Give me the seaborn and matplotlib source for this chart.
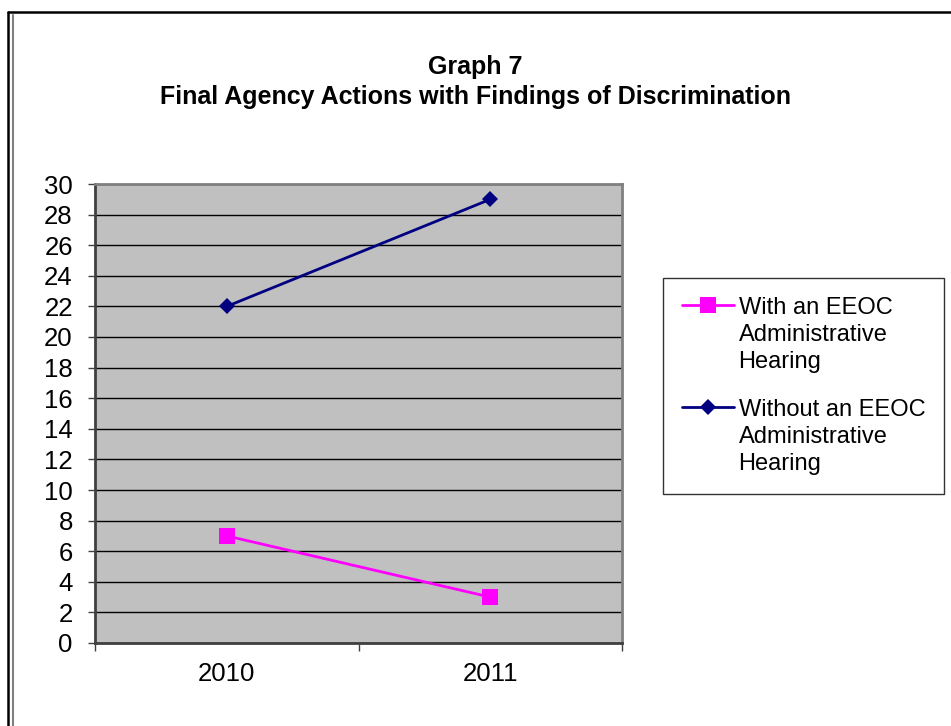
import seaborn as sns
import matplotlib.pyplot as plt
import pandas as pd
from matplotlib.lines import Line2D

# data
years = ['2010', '2011']
with_hearing = [7, 3]
without_hearing = [22, 29]
series_names = ['With an EEOC\nAdministrative\nHearing',
                'Without an EEOC\nAdministrative\nHearing']
y_ticks = list(range(0, 31, 2))

df = pd.DataFrame({
    'Year': years * 2,
    'Count': with_hearing + without_hearing,
    'Series': [series_names[0]] * len(years) + [series_names[1]] * len(years),
})

sns.set_style('white')
plt.rcParams['font.family'] = ['Liberation Sans', 'DejaVu Sans']
plt.rcParams['text.color'] = 'black'
plt.rcParams['xtick.color'] = 'black'
plt.rcParams['ytick.color'] = 'black'

fig = plt.figure(figsize=(9.51, 7.26), dpi=100)
ax = fig.add_axes([95 / 951, 1 - 643 / 726, (622 - 95) / 951, (643 - 184) / 726])
ax.set_facecolor('#C0C0C0')

sns.lineplot(data=df, x='Year', y='Count', hue='Series', style='Series',
             hue_order=series_names, style_order=series_names,
             palette=['#FF00FF', '#000080'], markers=['s', 'D'], dashes=False,
             linewidth=2, markeredgewidth=0, ax=ax)
ax.lines[0].set_markersize(11)
ax.lines[1].set_markersize(8)

ax.set_xlim(-0.5, 1.5)
ax.set_ylim(0, 30)
ax.set_yticks(y_ticks)
ax.yaxis.grid(True, color='black', linewidth=1)
ax.set_axisbelow(True)
ax.set_xticks([-0.5, 0.5, 1.5])
ax.set_xticklabels([])
ax.set_xticks([0, 1], minor=True)
ax.set_xticklabels(years, minor=True)
ax.tick_params(axis='x', which='major', length=6, width=1, color='#404040', direction='out', bottom=True)
ax.tick_params(axis='x', which='minor', length=0, pad=14, labelsize=18.5)
ax.tick_params(axis='y', length=5, width=1, color='#404040', direction='out', left=True, labelsize=18.5, pad=11)
ax.set_xlabel('')
ax.set_ylabel('')
for side in ['top', 'right']:
    ax.spines[side].set_color('#808080')
    ax.spines[side].set_linewidth(2)
for side in ['left', 'bottom']:
    ax.spines[side].set_color('#404040')
    ax.spines[side].set_linewidth(2)

fig.text(0.5, 1 - 82 / 726, 'Graph 7\nFinal Agency Actions with Findings of Discrimination',
         ha='center', va='center', fontsize=18, fontweight='bold', linespacing=1.3)

handles, labels = ax.get_legend_handles_labels()
leg = ax.legend(handles, labels, loc='upper left',
                bbox_to_anchor=(663 / 951, 1 - 278 / 726), bbox_transform=fig.transFigure,
                frameon=True, fancybox=False, fontsize=17, handlelength=2.2,
                handletextpad=0.2, labelspacing=1.1, borderpad=0.8, borderaxespad=0)
leg.get_frame().set_edgecolor('black')
leg.get_frame().set_linewidth(1)
leg.legend_handles[0].set_markersize(11)
leg.legend_handles[1].set_markersize(8)
for t in leg.get_texts():
    t.set_linespacing(1.3)
# put the legend marker next to the first line of each label
for col in leg._legend_handle_box.get_children():
    for row in col.get_children():
        row.align = 'top'

# page border
fig.add_artist(Line2D([8 / 951, 8 / 951], [0, 1 - 12 / 726], color='black', linewidth=1.8, transform=fig.transFigure))
fig.add_artist(Line2D([13 / 951, 13 / 951], [0, 1 - 15 / 726], color='#808080', linewidth=1.5, transform=fig.transFigure))
fig.add_artist(Line2D([8 / 951, 1], [1 - 12 / 726, 1 - 12 / 726], color='black', linewidth=1.8, transform=fig.transFigure))

fig.savefig('out.png', dpi=100)
